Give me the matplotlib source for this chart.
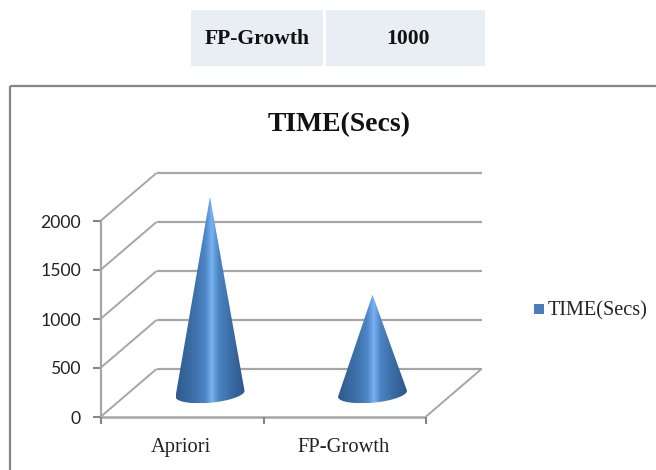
import numpy as np
import matplotlib
matplotlib.use("Agg")
import matplotlib.pyplot as plt
from matplotlib.patches import PathPatch, Rectangle
from matplotlib.path import Path
from matplotlib.colors import LinearSegmentedColormap

categories = ["Apriori", "FP-Growth"]
time_secs = [2000, 1000]
y_ticks = [0, 500, 1000, 1500, 2000]
table_row = ["FP-Growth", "1000"]
series_name = "TIME(Secs)"

W, H = 656, 470
GRID = "#a6a6a6"
SERIF = "Liberation Serif"

plt.rcParams["lines.solid_capstyle"] = "butt"

fig = plt.figure(figsize=(W / 100, H / 100), dpi=100)

# full figure layer in pixel coordinates, y pointing down
bg = fig.add_axes([0, 0, 1, 1])
bg.set_xlim(0, W)
bg.set_ylim(H, 0)
bg.axis("off")

# table row above the chart
bg.add_patch(Rectangle((191, 10), 132, 56, color="#e9edf4", lw=0))
bg.add_patch(Rectangle((326, 10), 159, 56, color="#e9edf4", lw=0))
bg.text(257, 39.5, table_row[0], family=SERIF, weight="bold", size=15.6,
        ha="center", va="center", color="#111111")
bg.text(408, 39.5, table_row[1], family=SERIF, weight="bold", size=15.6,
        ha="center", va="center", color="#111111")

# chart border, runs off the right and bottom edges
bg.add_patch(Rectangle((10, 86), 700, 450, fill=False, ec="#868686", lw=1.6))

bg.text(339, 125, series_name, family=SERIF, weight="bold", size=20,
        ha="center", va="center", color="#111111")

# front plane of the 3D plot
left, right, y0, y2000 = 101, 426, 416.5, 220.5
ax = fig.add_axes([left / W, 1 - y0 / H, (right - left) / W, (y0 - y2000) / H])
ax.set_xlim(0, len(categories))
ax.set_ylim(0, max(y_ticks))
ax.axis("off")

# pixel sizes converted to data units
px_x = len(categories) / (right - left)
px_y = max(y_ticks) / (y0 - y2000)
depth_x = 55.5 * px_x
depth_y = 47.5 * px_y

for v in y_ticks:
    # back wall line, side wall line, tick
    ax.plot([depth_x, len(categories) + depth_x], [v + depth_y, v + depth_y],
            color=GRID, lw=1.6, clip_on=False, zorder=1)
    ax.plot([0, depth_x], [v, v + depth_y], color=GRID, lw=1.4, clip_on=False, zorder=1)
    ax.plot([-8 * px_x, 0], [v, v], color="#868686", lw=1.5, clip_on=False, zorder=1)
    ax.text(-20 * px_x, v - 2 * px_y, str(v), family="Lato", size=12.7, ha="right", va="center",
            color="#222222", clip_on=False)

# floor and axis lines
ax.plot([0, len(categories)], [0, 0], color=GRID, lw=1.8, clip_on=False, zorder=1)
ax.plot([0, 0], [0, max(y_ticks)], color=GRID, lw=1.6, clip_on=False, zorder=1)
ax.plot([len(categories), len(categories) + depth_x], [0, depth_y], color=GRID, lw=1.4,
        clip_on=False, zorder=1)
for i in range(len(categories) + 1):
    ax.plot([i, i], [0, -7 * px_y], color="#868686", lw=1.5, clip_on=False, zorder=1)

shade = LinearSegmentedColormap.from_list(
    "cone", [(0, "#2f5a8c"), (0.3, "#3f74ae"), (0.43, "#5088c8"), (0.52, "#78b2f2"),
             (0.62, "#4c84c2"), (0.78, "#3c6fa8"), (1, "#2d5686")])
gradient = np.linspace(0, 1, 256).reshape(1, -1)

# cones stand in the middle of the floor
for i, (name, value) in enumerate(zip(categories, time_secs)):
    cx = i + 0.5 + depth_x / 2
    cy = depth_y / 2 - 1 * px_y
    a, b = 34.5 * px_x, 9 * px_y
    t = np.linspace(np.pi, 2 * np.pi, 60)
    # base ellipse is tilted a little, left end lower than the right
    ex = cx + a * np.cos(t)
    ey = cy + b * np.sin(t) + 3 * px_y * np.cos(t)
    top = depth_y / 2 + value
    xs = np.r_[cx, ex, cx]
    ys = np.r_[top, ey, top]
    cone = Path(np.c_[xs, ys])
    im = ax.imshow(gradient, cmap=shade, extent=(cx - a, cx + a, ey.min(), top),
                   aspect="auto", zorder=3)
    # the cone tip rises above the front plane, so only clip to the outline
    im.set_clip_box(fig.bbox)
    im.set_clip_path(PathPatch(cone, transform=ax.transData))
    ax.text(i + 0.5 - 1.5 * px_x, -31 * px_y, name, family=SERIF, size=14.8, ha="center", va="center",
            color="#222222", clip_on=False)

# imshow resets the limits
ax.set_xlim(0, len(categories))
ax.set_ylim(0, max(y_ticks))

# legend
bg.add_patch(Rectangle((534, 304), 9.5, 10, color="#4a7ebb", lw=0))
bg.text(548, 311, series_name, family=SERIF, size=14.6, ha="left", va="center", color="#222222")

fig.savefig("out.png", dpi=100)
